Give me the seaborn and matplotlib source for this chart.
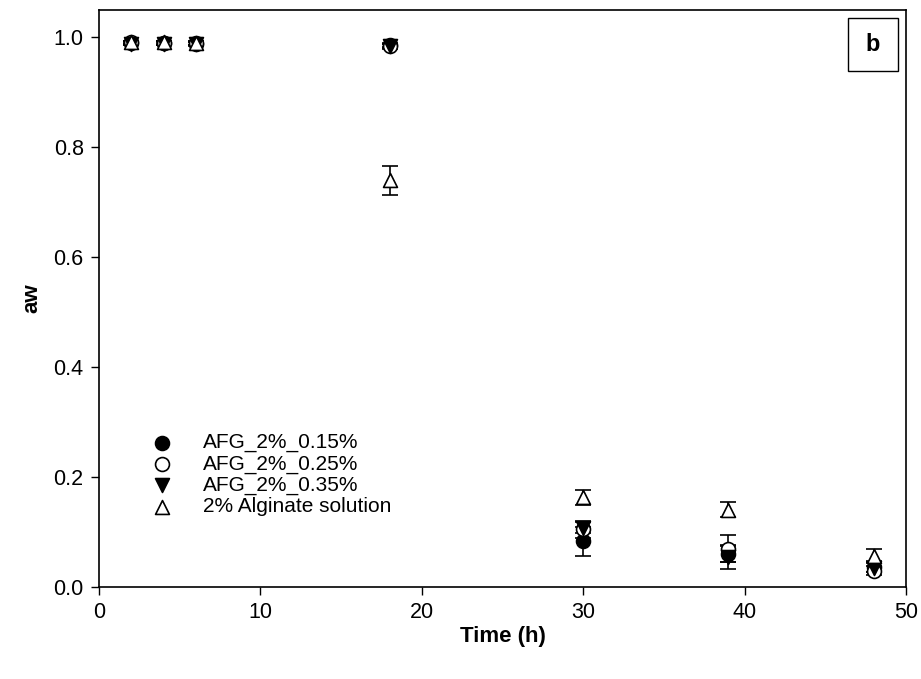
import pandas as pd
import matplotlib.pyplot as plt
import seaborn as sns
from matplotlib import font_manager as fm
from matplotlib.patches import Rectangle

sns.set_theme(style="white")
plt.rcParams['font.family'] = ['Liberation Sans', 'DejaVu Sans']
plt.rcParams.update({'text.color': 'black', 'axes.labelcolor': 'black',
                     'xtick.color': 'black', 'ytick.color': 'black'})

# pick the regular-width bold face (avoid the Narrow variant)
bold_file = None
for f in fm.fontManager.ttflist:
    if f.name == 'Liberation Sans' and f.weight in (700, 'bold') \
            and 'Narrow' not in f.fname and 'Italic' not in f.fname:
        bold_file = f.fname
        break
bold_kw = {'fontproperties': fm.FontProperties(fname=bold_file)} if bold_file else {'fontweight': 'bold'}

time_h = [2, 4, 6, 18, 30, 39, 48]
labels = ["AFG_2%_0.15%", "AFG_2%_0.25%", "AFG_2%_0.35%", "2% Alginate solution"]

aw_015 = [0.990, 0.990, 0.989, 0.986, 0.083, 0.060, 0.037]
err_015 = [0.003, 0.003, 0.003, 0.004, 0.027, 0.015, 0.010]
aw_025 = [0.991, 0.990, 0.990, 0.985, 0.105, 0.070, 0.030]
err_025 = [0.003, 0.003, 0.003, 0.004, 0.015, 0.025, 0.008]
aw_035 = [0.989, 0.989, 0.988, 0.984, 0.108, 0.055, 0.035]
err_035 = [0.003, 0.003, 0.003, 0.005, 0.010, 0.022, 0.008]
aw_alg = [0.991, 0.991, 0.990, 0.740, 0.163, 0.141, 0.057]
err_alg = [0.003, 0.003, 0.003, 0.027, 0.013, 0.013, 0.012]

series = [aw_015, aw_025, aw_035, aw_alg]
errors = [err_015, err_025, err_035, err_alg]

rows = []
for lab, vals, errs in zip(labels, series, errors):
    for t, v, e in zip(time_h, vals, errs):
        rows.append({'time': t, 'aw': v, 'err': e, 'sample': lab})
df = pd.DataFrame(rows)

markers = {labels[0]: 'o', labels[1]: 'o', labels[2]: 'v', labels[3]: '^'}
faces = {labels[0]: 'black', labels[1]: 'white', labels[2]: 'black', labels[3]: 'white'}

fig = plt.figure(figsize=(9.21, 6.79), dpi=100)
ax = fig.add_axes([0.1075, 0.1355, 0.8762, 0.8498])

for lab in labels:
    sub = df[df['sample'] == lab]
    ax.errorbar(sub['time'], sub['aw'], yerr=sub['err'], fmt='none',
                ecolor='black', elinewidth=1.2, capsize=6, capthick=1.2, zorder=2)
    sns.scatterplot(data=sub, x='time', y='aw', marker=markers[lab], s=100,
                    color=faces[lab], edgecolor='black', linewidth=1.2,
                    label=lab, ax=ax, zorder=3)

ax.set_xlim(0, 50)
ax.set_ylim(0, 1.05)
ax.set_xticks([0, 10, 20, 30, 40, 50])
ax.set_yticks([0.0, 0.2, 0.4, 0.6, 0.8, 1.0])
ax.set_yticklabels(["0.0", "0.2", "0.4", "0.6", "0.8", "1.0"])
ax.tick_params(direction='out', length=6, width=1, colors='black',
               labelsize=15.5, left=True, bottom=True, pad=5)
for sp in ax.spines.values():
    sp.set_color('black')
    sp.set_linewidth(1.2)

xl = ax.set_xlabel("Time (h)", labelpad=2, **bold_kw)
yl = ax.set_ylabel("aw", labelpad=8, **bold_kw)
xl.set_fontsize(16)
yl.set_fontsize(16)

leg = ax.legend(loc='lower left', bbox_to_anchor=(0.039, 0.105), frameon=False,
                fontsize=15, handletextpad=1.0, labelspacing=0.1,
                borderpad=0.0, markerscale=1.0)

ax.add_patch(Rectangle((0.928, 0.894), 0.062, 0.092, transform=ax.transAxes,
                       facecolor='white', edgecolor='black', linewidth=1.0,
                       zorder=5))
bt = ax.text(0.959, 0.94, "b", transform=ax.transAxes, ha='center', va='center',
             zorder=6, **bold_kw)
bt.set_fontsize(17)

fig.savefig("out.png", dpi=100)
